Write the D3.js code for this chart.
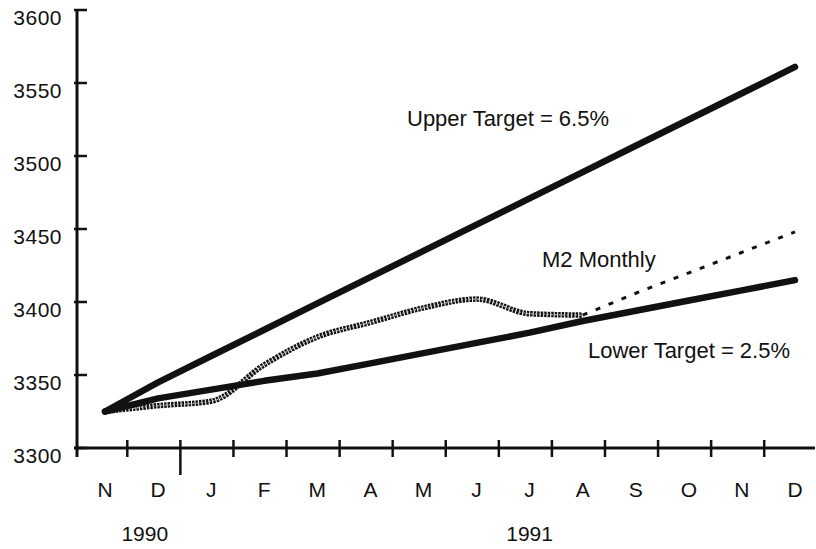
<!DOCTYPE html>
<head>
  <meta charset="utf-8">
  <style>
  body { margin: 0; background: #fff; }
  * { font-family: "Liberation Sans", Arial, Helvetica, sans-serif; }
  .target { fill: none; stroke: #111; stroke-width: 6.5px; stroke-linecap: round; stroke-linejoin: round; }
  .axis-line { stroke: #111; stroke-width: 3px; }
  .tick-mark { stroke: #111; stroke-width: 2.5px; }
  .lbl { font-size: 21px; fill: #111; }
  .note { font-size: 22px; fill: #111; }
  </style>
  <title>M2 Target Ranges</title>
</head>
<body>
  <svg width="816" height="549"></svg>
  <script src="https://d3js.org/d3.v7.min.js"></script>
  <script>
  // months from Nov 1990 to Dec 1991
  var months = ["N", "D", "J", "F", "M", "A", "M", "J", "J", "A", "S", "O", "N", "D"];
  var years = [{label: "1990", at: 0.75}, {label: "1991", at: 8}];
  var yTicks = [3300, 3350, 3400, 3450, 3500, 3550, 3600];

  var upperTarget = [3325, 3345, 3363, 3381, 3399, 3417, 3435, 3453, 3471, 3489, 3507, 3525, 3543, 3561];
  var lowerTarget = [3325, 3334, 3340, 3346, 3351, 3358, 3365, 3372, 3379, 3387, 3394, 3401, 3408, 3415];
  var m2Monthly = [3325, 3329, 3332, 3357, 3376, 3386, 3396, 3402, 3392, 3391];
  var m2Projected = [3391, 3406, 3420, 3434, 3448]; // Aug .. Dec 1991
  var projStart = 9;

  var svg = d3.select("svg");

  var x = d3.scaleLinear().domain([0, 13]).range([105, 795]);
  var y = d3.scaleLinear().domain([3300, 3600]).range([448, 10]);

  // axes
  svg.append("line").attr("class", "axis-line")
      .attr("x1", 77).attr("x2", 77).attr("y1", y(3600)).attr("y2", y(3300) + 9);
  svg.append("line").attr("class", "axis-line")
      .attr("x1", 74).attr("x2", 815).attr("y1", y(3300)).attr("y2", y(3300));

  svg.append("g").selectAll("line")
    .data(yTicks)
    .enter().append("line")
      .attr("class", "tick-mark")
      .attr("x1", 74).attr("x2", 87)
      .attr("y1", function(d) { return y(d); })
      .attr("y2", function(d) { return y(d); });

  svg.append("g").selectAll("text")
    .data(yTicks)
    .enter().append("text")
      .attr("class", "lbl")
      .attr("text-anchor", "end")
      .attr("letter-spacing", "0.5px")
      .attr("x", 62)
      .attr("y", function(d) { return y(d) + 15; })
      .text(function(d) { return d; });

  // x ticks sit at month boundaries; the one between Dec and Jan is long
  var xTicks = d3.range(0, 13).map(function(i) { return i + 0.42; });
  svg.append("g").selectAll("line")
    .data(xTicks)
    .enter().append("line")
      .attr("class", "tick-mark")
      .attr("x1", function(d) { return x(d); })
      .attr("x2", function(d) { return x(d); })
      .attr("y1", y(3300) - 8)
      .attr("y2", function(d, i) { return i == 1 ? y(3300) + 27 : y(3300) + 9; });

  svg.append("g").selectAll("text")
    .data(months)
    .enter().append("text")
      .attr("class", "lbl")
      .attr("text-anchor", "middle")
      .attr("x", function(d, i) { return x(i); })
      .attr("y", 497)
      .text(function(d) { return d; });

  svg.append("g").selectAll("text")
    .data(years)
    .enter().append("text")
      .attr("class", "lbl")
      .attr("text-anchor", "middle")
      .attr("x", function(d) { return x(d.at); })
      .attr("y", 541)
      .text(function(d) { return d.label; });

  // lines
  var line = d3.line()
      .x(function(d, i) { return x(i); })
      .y(function(d) { return y(d); });

  var smooth = d3.line()
      .x(function(d, i) { return x(i); })
      .y(function(d) { return y(d); })
      .curve(d3.curveMonotoneX);

  var projLine = d3.line()
      .x(function(d, i) { return x(i + projStart); })
      .y(function(d) { return y(d); });

  svg.append("path")
      .attr("d", projLine(m2Projected))
      .attr("fill", "none")
      .attr("stroke", "#111")
      .attr("stroke-width", 3)
      .attr("stroke-dasharray", "5,9");

  // hatched look of the M2 line
  svg.append("path")
      .attr("d", smooth(m2Monthly))
      .attr("fill", "none")
      .attr("stroke", "#111")
      .attr("stroke-width", 5.5)
      .attr("stroke-dasharray", "2.5,1");
  svg.append("path")
      .attr("d", smooth(m2Monthly))
      .attr("fill", "none")
      .attr("stroke", "#bbb")
      .attr("stroke-width", 1.2)
      .attr("stroke-dasharray", "2,2");

  svg.append("path").attr("class", "target").attr("d", line(lowerTarget));
  svg.append("path").attr("class", "target").attr("d", line(upperTarget));

  // annotations
  svg.append("text").attr("class", "note").attr("x", 407).attr("y", 126).text("Upper Target = 6.5%");
  svg.append("text").attr("class", "note").attr("x", 542).attr("y", 267).text("M2 Monthly");
  svg.append("text").attr("class", "note").attr("x", 588).attr("y", 358).text("Lower Target = 2.5%");
  </script>
</body>
